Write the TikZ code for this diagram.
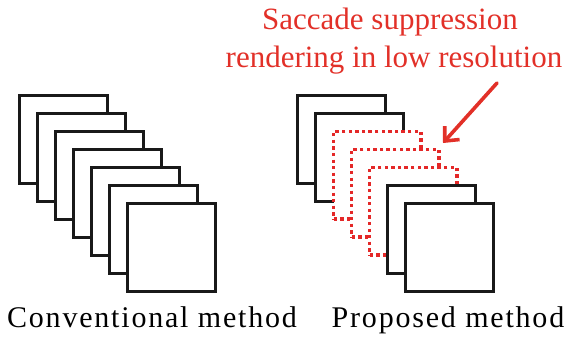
\documentclass[tikz,border=0pt]{standalone}
\usepackage{fontspec}
\setmainfont{Liberation Serif}
\newfontfamily\widefont[LetterSpace=6]{Liberation Serif}
\usetikzlibrary{arrows.meta}
\definecolor{accentred}{RGB}{226,48,40}
\definecolor{dotred}{RGB}{228,40,40}
\tikzset{
  frame/.style={draw=black!90, line width=3.2pt, fill=white, minimum size=87.5pt,
    inner sep=0pt, outer sep=0pt, anchor=north west},
  lowres/.style={frame, draw=dotred, line width=3.3pt, dash pattern=on 3.3pt off 3.3pt},
  caption/.style={font=\widefont\fontsize{30}{36}\selectfont, anchor=base, inner sep=0pt},
  redtext/.style={font=\fontsize{31}{34}\selectfont, text=accentred, anchor=base, inner sep=0pt}
}
\begin{document}
\begin{tikzpicture}[x=1pt, y=-1pt]
\useasboundingbox (0,0) rectangle (579,338);
% conventional method: seven full frames
\foreach \i in {0,...,6}
  \node[frame] (c\i) at ({19.6+18*\i},{95.6+18*\i}) {};
% proposed method: full, reduced and full frames
\node[frame]  (p0) at (297.6, 95.6) {};
\node[frame]  (p1) at (315.6,113.6) {};
\node[lowres] (r1) at (333.6,131.6) {};
\node[lowres] (r2) at (351.6,149.6) {};
\node[lowres] (r3) at (369.6,167.6) {};
\node[frame]  (p2) at (387.6,185.6) {};
\node[frame]  (p3) at (405.6,203.6) {};
% annotation
\node[redtext] (note1) at (390,29) {Saccade suppression};
\node[redtext] (note2) at (394,67) {rendering in low resolution};
\coordinate (tail) at (497,83);
\coordinate (tip) at (443,143);
\draw[accentred, line width=3.6pt, line cap=round,
  -{Straight Barb[length=11pt,width=20pt,line width=3.6pt]}] (tail) -- (tip);
% captions
\node[caption] (lblc) at (152,327) {Conventional method};
\node[caption] (lblp) at (448,327) {Proposed method};
\end{tikzpicture}
\end{document}
